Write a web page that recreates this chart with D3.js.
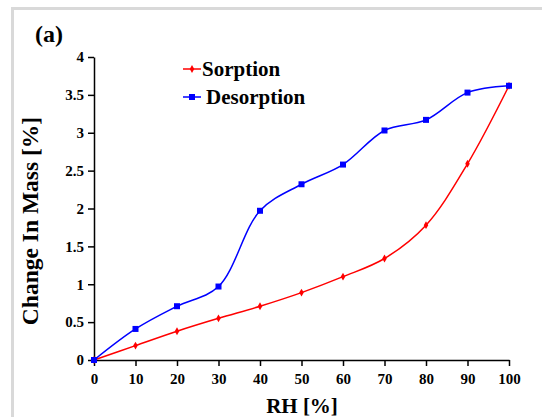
<!DOCTYPE html>
<html>
<head>
<meta charset="utf-8">
<script src="https://cdn.jsdelivr.net/npm/d3@7"></script>
<style>
  body { margin: 0; background: #fff; }
  text { font-family: "Liberation Serif", "Times New Roman", serif; font-weight: bold; fill: #000; }
</style>
</head>
<body>
<svg id="chart" width="542" height="417"></svg>
<script>
const rh = [0, 10, 20, 30, 40, 50, 60, 70, 80, 90, 100];
const sorption = [0, 0.19, 0.38, 0.55, 0.71, 0.89, 1.10, 1.34, 1.78, 2.59, 3.62];
const desorption = [0, 0.41, 0.71, 0.97, 1.97, 2.32, 2.58, 3.03, 3.17, 3.53, 3.62];
const xTicks = [0, 10, 20, 30, 40, 50, 60, 70, 80, 90, 100];
const yTicks = [0, 0.5, 1, 1.5, 2, 2.5, 3, 3.5, 4];

const svg = d3.select('#chart');

// grey frame, top and left only
svg.append('rect').attr('x', 11).attr('y', 7).attr('width', 531).attr('height', 3).attr('fill', '#d9d9d9');
svg.append('rect').attr('x', 11).attr('y', 7).attr('width', 3).attr('height', 410).attr('fill', '#d9d9d9');

const x = d3.scaleLinear().domain([0, 100]).range([94, 509]);
const y = d3.scaleLinear().domain([0, 4]).range([360, 57]);

const xAxis = svg.append('g')
  .attr('transform', `translate(0,${y(0)})`)
  .call(d3.axisBottom(x).tickValues(xTicks).tickSize(6).tickSizeOuter(0).tickPadding(7));
const yAxis = svg.append('g')
  .attr('transform', `translate(${x(0)},0)`)
  .call(d3.axisLeft(y).tickValues(yTicks).tickSize(6).tickSizeOuter(0).tickPadding(4)
    .tickFormat(d3.format('')));

[xAxis, yAxis].forEach(g => {
  g.select('.domain').attr('stroke', '#000').attr('stroke-width', 1.5);
  g.selectAll('.tick line').attr('stroke', '#000').attr('stroke-width', 1.5);
  g.selectAll('.tick text')
    .style('font-family', '"Liberation Serif", serif')
    .style('font-weight', 'bold')
    .style('font-size', '15px')
    .attr('fill', '#000');
});

const line = d3.line()
  .x(d => x(d[0]))
  .y(d => y(d[1]))
  .curve(d3.curveCatmullRom.alpha(0.5));

const sorpPts = rh.map((v, i) => [v, sorption[i]]);
const desPts = rh.map((v, i) => [v, desorption[i]]);

svg.append('path').datum(sorpPts).attr('d', line)
  .attr('fill', 'none').attr('stroke', '#ff0000').attr('stroke-width', 1.5);
svg.append('path').datum(desPts).attr('d', line)
  .attr('fill', 'none').attr('stroke', '#0000ff').attr('stroke-width', 1.5);

const diamond = d3.symbol().type(d3.symbolDiamond).size(18);
svg.selectAll('.sorp').data(sorpPts).enter().append('path')
  .attr('class', 'sorp')
  .attr('d', diamond)
  .attr('transform', d => `translate(${x(d[0])},${y(d[1])})`)
  .attr('fill', '#ff0000');

svg.selectAll('.des').data(desPts).enter().append('rect')
  .attr('class', 'des')
  .attr('x', d => x(d[0]) - 3).attr('y', d => y(d[1]) - 3)
  .attr('width', 6).attr('height', 6)
  .attr('fill', '#0000ff');

// legend
const legend = [
  { name: 'Sorption', color: '#ff0000', ly: 69, tx: 202, ty: 76, marker: 'diamond' },
  { name: 'Desorption', color: '#0000ff', ly: 97, tx: 206, ty: 104, marker: 'square' }
];
legend.forEach(l => {
  svg.append('line').attr('x1', 183).attr('x2', 201).attr('y1', l.ly).attr('y2', l.ly)
    .attr('stroke', l.color).attr('stroke-width', 1.5);
  if (l.marker === 'diamond') {
    svg.append('path').attr('d', diamond).attr('transform', `translate(192,${l.ly})`).attr('fill', l.color);
  } else {
    svg.append('rect').attr('x', 189).attr('y', l.ly - 3).attr('width', 6).attr('height', 6).attr('fill', l.color);
  }
  svg.append('text').attr('x', l.tx).attr('y', l.ty).style('font-size', '21px').text(l.name);
});

// titles
svg.append('text').attr('x', 35).attr('y', 42).style('font-size', '24px').text('(a)');
svg.append('text').attr('x', 302).attr('y', 413).attr('text-anchor', 'middle')
  .style('font-size', '21px').text('RH [%]');
svg.append('text').attr('transform', 'translate(38,221) rotate(-90)').attr('text-anchor', 'middle')
  .style('font-size', '23.5px').text('Change In Mass [%]');
</script>
</body>
</html>
